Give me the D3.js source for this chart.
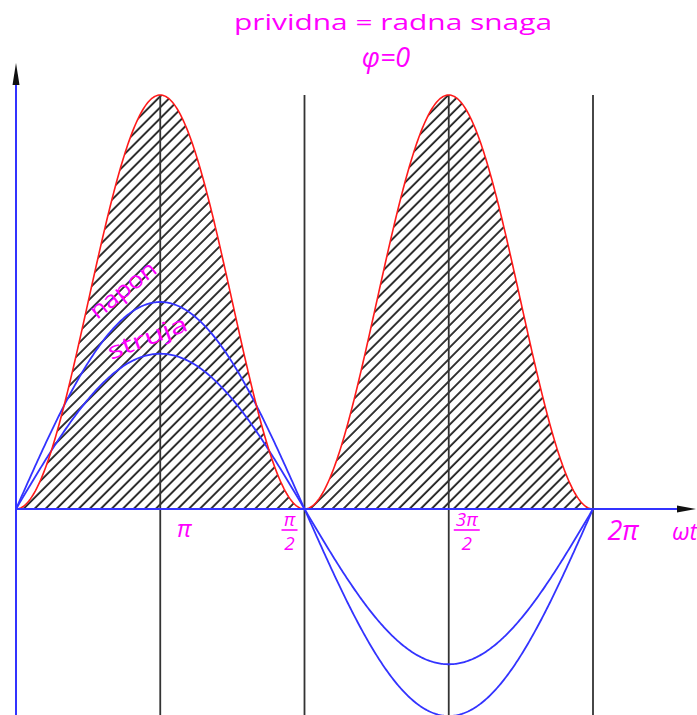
<!DOCTYPE html>
<html>
<head>
<meta charset="utf-8">
<script src="https://cdn.jsdelivr.net/npm/d3@7"></script>
<style>
  body { margin: 0; background: #fff; }
  .lbl { fill: #ff00ff; font-family: "Open Sans", "DejaVu Sans", sans-serif; font-weight: 400; }
</style>
</head>
<body>
<svg id="chart" width="697" height="715"></svg>
<script>
// chart values
var title = "prividna = radna snaga";
var subtitle = "φ=0";
var naponAmp = 1.0;      // voltage amplitude
var strujaAmp = 0.75;    // current amplitude
var snagaPeak = 2.0;     // power peak (drawn scale)
var gridAt = [0.5, 1, 1.5, 2];            // multiples of pi
var tickNum = ["π", "π", "3π", "2π"];
var tickDen = ["", "2", "2", ""];
var curveNames = ["napon", "struja"];

var svg = d3.select("#chart");
var W = 697, H = 715;

var x = d3.scaleLinear().domain([0, 2 * Math.PI]).range([16, 593]);
var y = d3.scaleLinear().domain([-1, 2]).range([716, 95]);

var samples = d3.range(0, 2 * Math.PI + 0.0001, Math.PI / 240);

// hatch pattern
var defs = svg.append("defs");
var pat = defs.append("pattern")
    .attr("id", "hatch")
    .attr("patternUnits", "userSpaceOnUse")
    .attr("width", 7.8)
    .attr("height", 10)
    .attr("patternTransform", "rotate(45)");
pat.append("line")
    .attr("x1", 2).attr("y1", -2).attr("x2", 2).attr("y2", 12)
    .attr("stroke", "#111")
    .attr("stroke-width", 1.7);

var snaga = function(t) { return snagaPeak * Math.pow(Math.sin(t), 2); };

// hatched area under power
svg.append("path")
    .datum(samples)
    .attr("d", d3.area()
        .x(function(d) { return x(d); })
        .y0(y(0))
        .y1(function(d) { return y(snaga(d)); }))
    .attr("fill", "url(#hatch)");

// vertical grid lines
svg.selectAll(".vline")
    .data(gridAt)
    .enter().append("line")
    .attr("class", "vline")
    .attr("x1", function(d) { return x(d * Math.PI); })
    .attr("x2", function(d) { return x(d * Math.PI); })
    .attr("y1", y(snagaPeak))
    .attr("y2", H)
    .attr("stroke", "#333")
    .attr("stroke-width", 1.8);

// voltage and current
var amps = [naponAmp, strujaAmp];
svg.selectAll(".wave")
    .data(amps)
    .enter().append("path")
    .attr("class", "wave")
    .attr("d", function(a) {
        return d3.line()
            .x(function(d) { return x(d); })
            .y(function(d) { return y(a * Math.sin(d)); })(samples);
    })
    .attr("fill", "none")
    .attr("stroke", "#3333ff")
    .attr("stroke-width", 1.8);

// power curve
svg.append("path")
    .datum(samples)
    .attr("d", d3.line()
        .x(function(d) { return x(d); })
        .y(function(d) { return y(snaga(d)); }))
    .attr("fill", "none")
    .attr("stroke", "#ff1a1a")
    .attr("stroke-width", 1.6);

// axes
svg.append("line")
    .attr("x1", x(0)).attr("x2", 680)
    .attr("y1", y(0)).attr("y2", y(0))
    .attr("stroke", "#3333ff").attr("stroke-width", 2);
svg.append("line")
    .attr("x1", x(0)).attr("x2", x(0))
    .attr("y1", H).attr("y2", 80)
    .attr("stroke", "#3333ff").attr("stroke-width", 2);
svg.append("path")
    .attr("d", "M677," + (y(0) - 3.5) + "L696," + y(0) + "L677," + (y(0) + 3.5) + "Z")
    .attr("fill", "#111");
svg.append("path")
    .attr("d", "M" + (x(0) - 3.5) + ",85L" + x(0) + ",63L" + (x(0) + 3.5) + ",85Z")
    .attr("fill", "#111");

// title
svg.append("text").attr("class", "lbl")
    .attr("x", 393).attr("y", 30)
    .attr("text-anchor", "middle")
    .attr("font-size", 22)
    .attr("textLength", 318).attr("lengthAdjust", "spacingAndGlyphs")
    .text(title);
svg.append("text").attr("class", "lbl")
    .attr("x", 386).attr("y", 67)
    .attr("text-anchor", "middle")
    .attr("font-size", 27)
    .attr("font-style", "italic")
    .text(subtitle);

// tick labels
var tickOffset = [24, -15, 18, 0];
gridAt.forEach(function(d, i) {
    var cx = x(d * Math.PI) + tickOffset[i];
    if (tickDen[i] === "") {
        var big = i === 3;
        svg.append("text").attr("class", "lbl")
            .attr("x", big ? cx + 30 : cx).attr("y", big ? 540 : 537)
            .attr("text-anchor", "middle")
            .attr("font-size", big ? 27 : 24)
            .attr("font-style", "italic")
            .text(tickNum[i]);
    } else {
        svg.append("text").attr("class", "lbl")
            .attr("x", cx).attr("y", 526)
            .attr("text-anchor", "middle")
            .attr("font-size", 19)
            .attr("font-style", "italic")
            .text(tickNum[i]);
        svg.append("line")
            .attr("x1", cx - (tickNum[i].length > 1 ? 13 : 8))
            .attr("x2", cx + (tickNum[i].length > 1 ? 13 : 8))
            .attr("y1", 530).attr("y2", 530)
            .attr("stroke", "#ff00ff").attr("stroke-width", 1.6);
        svg.append("text").attr("class", "lbl")
            .attr("x", cx).attr("y", 550)
            .attr("text-anchor", "middle")
            .attr("font-size", 19)
            .attr("font-style", "italic")
            .text(tickDen[i]);
    }
});
svg.append("text").attr("class", "lbl")
    .attr("x", 672).attr("y", 540)
    .attr("font-size", 24)
    .attr("font-style", "italic")
    .text("ωt");

// curve names
var namePos = [[97, 320, -38, 78], [111, 360, -21, 84]];
svg.selectAll(".cname")
    .data(curveNames)
    .enter().append("text")
    .attr("class", "lbl cname")
    .attr("transform", function(d, i) {
        return "translate(" + namePos[i][0] + "," + namePos[i][1] + ") rotate(" + namePos[i][2] + ")";
    })
    .attr("font-size", 23)
    .attr("textLength", function(d, i) { return namePos[i][3]; })
    .attr("lengthAdjust", "spacingAndGlyphs")
    .text(function(d) { return d; });
</script>
</body>
</html>
